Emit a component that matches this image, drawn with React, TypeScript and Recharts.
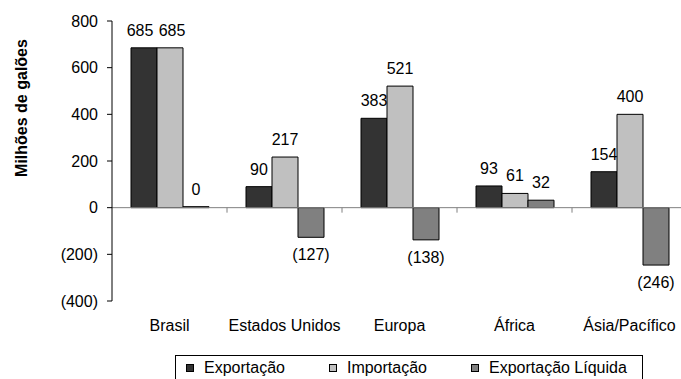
import React from "react";
import {
  BarChart,
  Bar,
  XAxis,
  YAxis,
  Legend,
  LabelList,
  ReferenceLine,
} from "recharts";

const categories = ["Brasil", "Estados Unidos", "Europa", "África", "Ásia/Pacífico"];
const exportacao = [685, 90, 383, 93, 154];
const importacao = [685, 217, 521, 61, 400];
const exportacaoLiquida = [0, -127, -138, 32, -246];
const yTicks = [-400, -200, 0, 200, 400, 600, 800];

const seriesNames = ["Exportação", "Importação", "Exportação Líquida"];
const seriesColors = ["#333333", "#C0C0C0", "#808080"];

const data = categories.map((name, i) => ({
  name,
  exp: exportacao[i],
  imp: importacao[i],
  liq: exportacaoLiquida[i],
}));

const FONT = "'Liberation Sans', Arimo, Arial, sans-serif";

const fmt = (v: number) => (v < 0 ? `(${Math.abs(v)})` : `${v}`);

// labels of neighbouring bars with the same value get nudged apart
const ValueLabel = (props: any) => {
  const vb = props.viewBox || props;
  const x = vb.x ?? props.x;
  const y = vb.y ?? props.y;
  const w = vb.width ?? props.width;
  const h = vb.height ?? props.height;
  const v = Number(props.value);
  const top = Math.min(y, y + h);
  const bottom = Math.max(y, y + h);
  let cx = x + w / 2;
  if (props.partner && props.index != null && props.partner[props.index] === v) {
    cx += props.side < 0 ? -4 : 2;
  }
  const ty = v < 0 ? bottom + 23 : top - 12;
  return (
    <text x={cx} y={ty} textAnchor="middle" fontSize={16} fontFamily={FONT} fill="#000">
      {fmt(v)}
    </text>
  );
};

const ZeroLine = (props: any) => {
  const { x1, y1, x2, y2 } = props;
  const step = (x2 - x1) / categories.length;
  const marks = categories.slice(1).map((_, i) => x1 + step * (i + 1));
  return (
    <g>
      <line x1={x1} y1={y1} x2={x2} y2={y2} stroke="#808080" strokeWidth={1} />
      {marks.map((mx, i) => (
        <line key={i} x1={mx} y1={y1} x2={mx} y2={y1 + 5} stroke="#808080" strokeWidth={1} />
      ))}
    </g>
  );
};

const AxisTitle = (props: any) => {
  const vb = props.viewBox || { x: 0, y: 0 };
  const x = vb.x + 21;
  const y = vb.y + 87;
  return (
    <text
      x={x}
      y={y}
      transform={`rotate(-90, ${x}, ${y})`}
      textAnchor="middle"
      dominantBaseline="central"
      fontSize={16}
      fontWeight="bold"
      fontFamily={FONT}
      fill="#000"
    >
      Milhões de galões
    </text>
  );
};

const LegendBox = () => (
  <div
    style={{
      boxSizing: "border-box",
      height: 26,
      border: "1px solid #000",
      display: "flex",
      alignItems: "center",
      padding: "0 15px 0 10px",
      fontFamily: FONT,
      fontSize: 16,
      color: "#000",
      whiteSpace: "nowrap",
    }}
  >
    {seriesNames.map((n, i) => (
      <div key={n} style={{ display: "flex", alignItems: "center", marginLeft: i ? 44 : 0 }}>
        <span
          style={{
            boxSizing: "border-box",
            display: "inline-block",
            width: 8,
            height: 8,
            background: seriesColors[i],
            border: "1px solid #000",
            marginRight: 10,
          }}
        />
        <span>{n}</span>
      </div>
    ))}
  </div>
);

export default function App() {
  return (
    <div style={{ position: "absolute", left: 0, top: 0, width: 681, height: 379, overflow: "hidden", background: "#fff" }}>
      <BarChart
        width={695}
        height={381}
        data={data}
        margin={{ top: 21, right: 8, left: 0, bottom: 0 }}
        barCategoryGap={19}
        barGap={0}
      >
        <XAxis
          dataKey="name"
          axisLine={false}
          tickLine={false}
          tickSize={0}
          tickMargin={19}
          height={54}
          interval={0}
          tick={{ fontSize: 16, fill: "#000", fontFamily: FONT }}
        />
        <YAxis
          width={112}
          domain={[-400, 800]}
          ticks={yTicks}
          interval={0}
          tickFormatter={fmt}
          axisLine={{ stroke: "#000" }}
          tickLine={{ stroke: "#000" }}
          tickSize={5}
          tickMargin={9}
          tick={{ fontSize: 16, fill: "#000", fontFamily: FONT }}
          label={<AxisTitle />}
        />
        <ReferenceLine y={0} shape={<ZeroLine />} />
        <Legend
          verticalAlign="bottom"
          content={<LegendBox />}
          wrapperStyle={{ left: 175, width: "auto" }}
        />
        <Bar dataKey="exp" name={seriesNames[0]} fill={seriesColors[0]} stroke="#000" strokeWidth={1} isAnimationActive={false}>
          <LabelList dataKey="exp" content={<ValueLabel partner={importacao} side={-1} />} />
        </Bar>
        <Bar dataKey="imp" name={seriesNames[1]} fill={seriesColors[1]} stroke="#000" strokeWidth={1} isAnimationActive={false}>
          <LabelList dataKey="imp" content={<ValueLabel partner={exportacao} side={1} />} />
        </Bar>
        <Bar
          dataKey="liq"
          name={seriesNames[2]}
          fill={seriesColors[2]}
          stroke="#000"
          strokeWidth={1}
          minPointSize={(v: number) => (v === 0 ? 1 : 0)}
          isAnimationActive={false}
        >
          <LabelList dataKey="liq" content={<ValueLabel />} />
        </Bar>
      </BarChart>
    </div>
  );
}
